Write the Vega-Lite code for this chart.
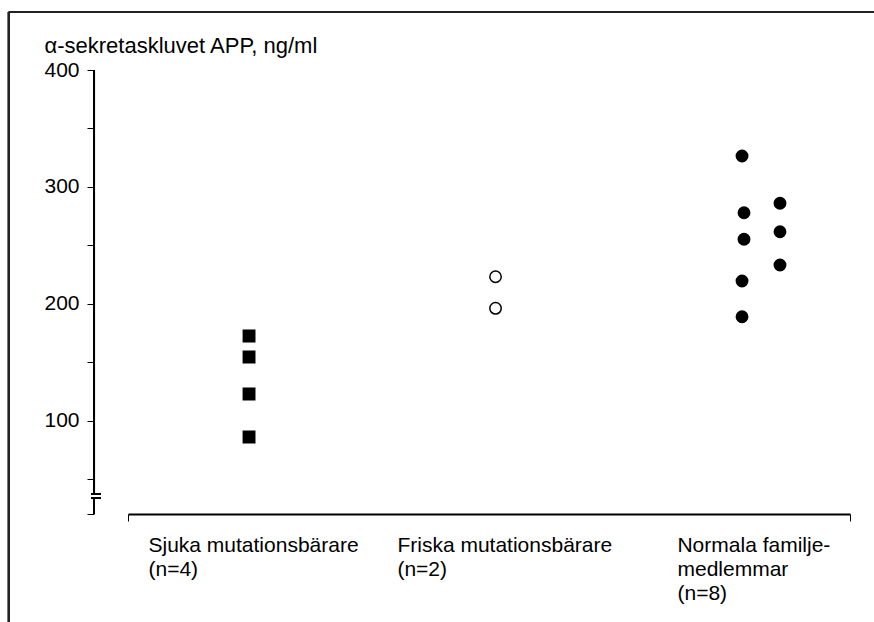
{
  "$schema": "https://vega.github.io/schema/vega-lite/v6.json",
  "width": 722,
  "height": 444,
  "autosize": {"type": "none"},
  "padding": {"left": 128, "top": 70, "right": 24, "bottom": 108},
  "background": "white",
  "config": {
    "view": {"stroke": null},
    "font": "Liberation Sans",
    "axis": {"labelColor": "black", "titleColor": "black", "labelFont": "Liberation Sans", "titleFont": "Liberation Sans"}
  },
  "data": {
    "values": [
      {"group": "Sjuka mutationsbärare", "pos": 1, "value": 172.6},
      {"group": "Sjuka mutationsbärare", "pos": 1, "value": 154.7},
      {"group": "Sjuka mutationsbärare", "pos": 1, "value": 123.1},
      {"group": "Sjuka mutationsbärare", "pos": 1, "value": 86.3},
      {"group": "Friska mutationsbärare", "pos": 2, "value": 223.3},
      {"group": "Friska mutationsbärare", "pos": 2, "value": 196.3},
      {"group": "Normala familjemedlemmar", "pos": 3, "value": 326.5},
      {"group": "Normala familjemedlemmar", "pos": 3.008, "value": 278.0},
      {"group": "Normala familjemedlemmar", "pos": 3.008, "value": 255.3},
      {"group": "Normala familjemedlemmar", "pos": 3, "value": 219.7},
      {"group": "Normala familjemedlemmar", "pos": 3, "value": 189.1},
      {"group": "Normala familjemedlemmar", "pos": 3.154, "value": 286.1},
      {"group": "Normala familjemedlemmar", "pos": 3.154, "value": 261.8},
      {"group": "Normala familjemedlemmar", "pos": 3.154, "value": 233.3}
    ]
  },
  "layer": [
    {
      "mark": {"type": "point", "filled": true, "stroke": "black", "strokeWidth": 1.5, "opacity": 1, "size": 130},
      "encoding": {
        "x": {
          "field": "pos",
          "type": "quantitative",
          "scale": {"domain": [0.509, 3.438], "nice": false, "zero": false},
          "axis": {
            "values": [0.509, 0.59, 1.6, 2.736, 3.438],
            "title": null,
            "grid": false,
            "domain": true,
            "domainColor": "black",
            "domainWidth": 2,
            "ticks": true,
            "tickSize": 7,
            "tickColor": "black",
            "tickWidth": 1,
            "tickOpacity": {"condition": {"test": "datum.value < 0.52 || datum.value > 3.43", "value": 1}, "value": 0},
            "labelExpr": "datum.value < 0.55 || datum.value > 3.4 ? '' : datum.value < 1 ? ['Sjuka mutationsbärare', '(n=4)'] : datum.value < 2 ? ['Friska mutationsbärare', '(n=2)'] : ['Normala familje-', 'medlemmar', '(n=8)']",
            "labelAlign": "left",
            "labelBaseline": "top",
            "labelPadding": 13,
            "labelFontSize": 21,
            "labelLineHeight": 24,
            "labelLimit": 0,
            "labelOverlap": false,
            "labelBound": false,
            "labelFlush": false
          }
        },
        "y": {
          "field": "value",
          "type": "quantitative",
          "scale": {"domain": [20.5, 400], "nice": false, "zero": false},
          "axis": {
            "values": [20.5, 50, 100, 150, 200, 250, 300, 350, 400],
            "offset": 34,
            "domain": false,
            "grid": false,
            "tickSize": 7,
            "tickColor": "black",
            "tickWidth": 1,
            "labelExpr": "datum.value % 100 === 0 ? datum.label : ''",
            "labelFontSize": 21,
            "labelPadding": 8,
            "labelLimit": 0,
            "labelOverlap": false,
            "title": "α-sekretaskluvet APP, ng/ml",
            "titleAngle": 0,
            "titleAlign": "left",
            "titleBaseline": "alphabetic",
            "titleX": -50,
            "titleY": -18,
            "titleFontSize": 22,
            "titleFontWeight": "normal",
            "titleLimit": 0
          }
        },
        "shape": {
          "field": "group",
          "type": "nominal",
          "scale": {"domain": ["Sjuka mutationsbärare", "Friska mutationsbärare", "Normala familjemedlemmar"], "range": ["square", "circle", "circle"]},
          "legend": null
        },
        "fill": {
          "field": "group",
          "type": "nominal",
          "scale": {"domain": ["Sjuka mutationsbärare", "Friska mutationsbärare", "Normala familjemedlemmar"], "range": ["black", "white", "black"]},
          "legend": null
        }
      }
    },
    {
      "mark": {"type": "rule", "color": "#222222", "strokeWidth": 2},
      "encoding": {"x": {"datum": 0.026}, "y": {"datum": 449.5}, "y2": {"datum": -71.8}}
    },
    {
      "mark": {"type": "rule", "color": "#222222", "strokeWidth": 2},
      "encoding": {"x": {"datum": 0.026}, "x2": {"datum": 3.5354}, "y": {"datum": 449.5}}
    },
    {
      "mark": {"type": "rule", "color": "black", "strokeWidth": 2},
      "encoding": {"x": {"datum": 0.3711}, "y": {"datum": 400}, "y2": {"datum": 37.6}}
    },
    {
      "mark": {"type": "rule", "color": "black", "strokeWidth": 2},
      "encoding": {"x": {"datum": 0.3711}, "y": {"datum": 34.2}, "y2": {"datum": 20.5}}
    },
    {
      "mark": {"type": "rule", "color": "black", "strokeWidth": 1.5},
      "encoding": {"x": {"datum": 0.3589}, "x2": {"datum": 0.3995}, "y": {"datum": 37.6}}
    },
    {
      "mark": {"type": "rule", "color": "black", "strokeWidth": 1.5},
      "encoding": {"x": {"datum": 0.3589}, "x2": {"datum": 0.3995}, "y": {"datum": 34.2}}
    }
  ]
}
